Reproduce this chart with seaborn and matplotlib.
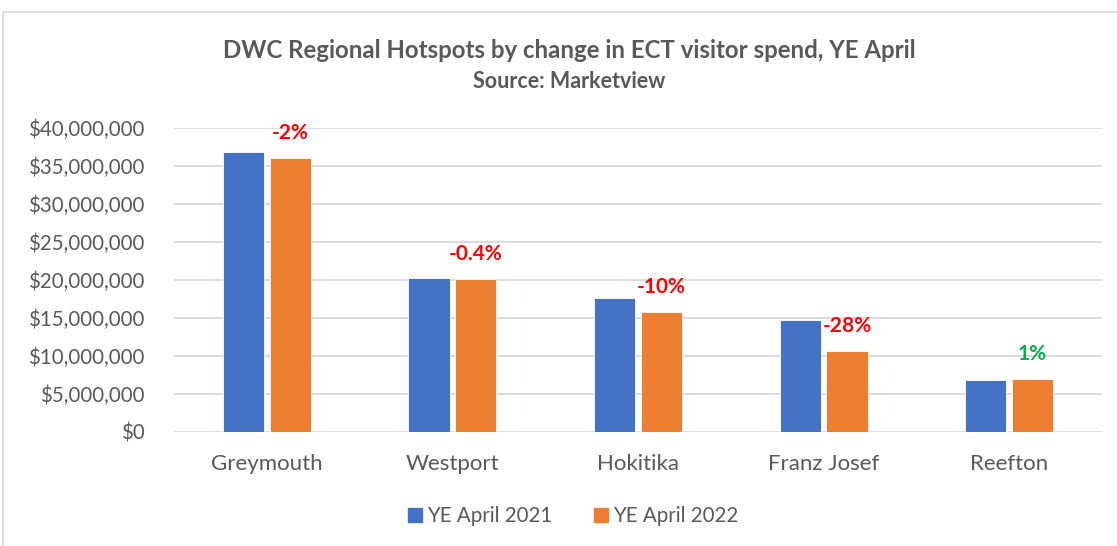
import pandas as pd
import matplotlib.pyplot as plt
import matplotlib.patches as mpatches
from matplotlib.ticker import FuncFormatter
import seaborn as sns

regions = ['Greymouth', 'Westport', 'Hokitika', 'Franz Josef', 'Reefton']
series = ['YE April 2021', 'YE April 2022']
spend_2021 = [36900000, 20200000, 17550000, 14750000, 6820000]
spend_2022 = [36050000, 20110000, 15750000, 10650000, 6900000]
change_labels = ['-2%', '-0.4%', '-10%', '-28%', '1%']
change_colors = ['#FF0000', '#FF0000', '#FF0000', '#FF0000', '#00B050']

df = pd.DataFrame({
    'region': regions * 2,
    'series': [series[0]] * len(regions) + [series[1]] * len(regions),
    'spend': spend_2021 + spend_2022,
})

sns.set_theme(style='white')
plt.rcParams['font.family'] = ['Lato', 'DejaVu Sans']
text_color = '#595959'
grid_color = '#d9d9d9'

fig = plt.figure(figsize=(11.17, 5.46), dpi=100)
ax = fig.add_axes([174 / 1117, 1 - 431.7 / 546, (1102 - 174) / 1117, (431.7 - 128) / 546])

palette = {series[0]: '#4472C4', series[1]: '#ED7D31'}
sns.barplot(data=df, x='region', y='spend', hue='series', order=regions,
            hue_order=series, palette=palette, width=0.505, gap=0.12,
            saturation=1, edgecolor='white', linewidth=0.6, ax=ax, legend=False)

ax.set_ylim(0, 40000000)
ax.set_yticks(range(0, 40000001, 5000000))
ax.yaxis.set_major_formatter(FuncFormatter(lambda v, p: f'${v:,.0f}'))
ax.grid(axis='y', color=grid_color, linewidth=1.3)
ax.set_axisbelow(True)
for s in ax.spines.values():
    s.set_visible(False)
ax.tick_params(axis='both', length=0, colors=text_color)
ax.tick_params(axis='x', pad=16, labelsize=16)
ax.tick_params(axis='y', pad=21, labelsize=14.8)
ax.set_xlabel('')
ax.set_ylabel('')
ax.set_xlim(-0.5, len(regions) - 0.5)

# change labels above the 2022 bars
orange_bars = ax.containers[1]
for bar, txt, col in zip(orange_bars, change_labels, change_colors):
    ax.annotate(txt, (bar.get_x() + bar.get_width() / 2, bar.get_height()),
                xytext=(0, 18), textcoords='offset points', ha='center', va='center',
                fontsize=15, fontweight='bold', color=col)

fig.text(569 / 1117, 1 - 50 / 546, 'DWC Regional Hotspots by change in ECT visitor spend, YE April',
         ha='center', va='center', fontsize=17.3, fontweight='bold', color=text_color)
fig.text(569 / 1117, 1 - 81 / 546, 'Source: Marketview',
         ha='center', va='center', fontsize=15.5, fontweight='bold', color=text_color)

handles = [mpatches.Patch(color=palette[s], label=s) for s in series]
fig.legend(handles=handles, loc='center', bbox_to_anchor=(573 / 1117, 1 - 516 / 546),
           ncol=2, frameon=False, fontsize=14.8, handlelength=0.7, handleheight=0.7,
           handletextpad=0.25, columnspacing=2.0, labelcolor=text_color)

fig.patches.append(mpatches.Rectangle((3 / 1117, -0.1), 1.1, 1.1 - 12 / 546,
                                      fill=False, edgecolor=grid_color, linewidth=1.2,
                                      transform=fig.transFigure, figure=fig))

fig.savefig('out.png', dpi=100)
